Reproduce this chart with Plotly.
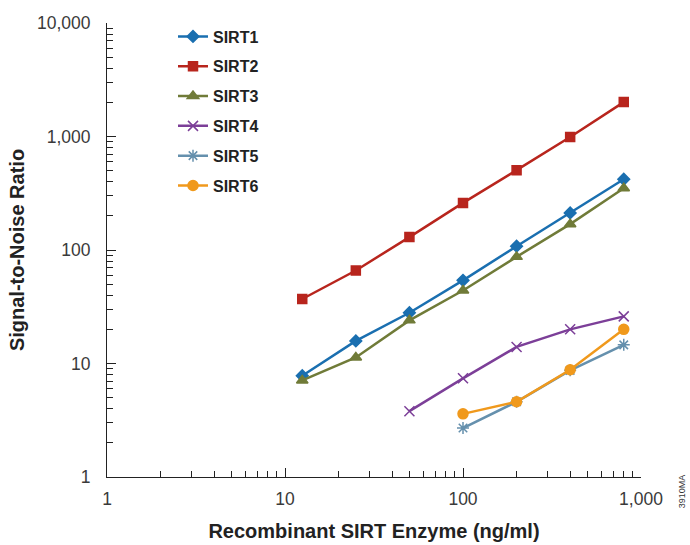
import plotly.graph_objects as go

conc = [12.5, 25, 50, 100, 200, 400, 800]
sirt1 = [7.8, 15.8, 28, 54, 108, 212, 420]
sirt2 = [37, 66, 130, 260, 505, 990, 2010]
sirt3 = [7.1, 11.3, 24, 44, 87, 169, 350]
conc4 = [50, 100, 200, 400, 800]
sirt4 = [3.8, 7.4, 14, 20, 26]
conc56 = [100, 200, 400, 800]
sirt5 = [2.7, 4.6, 8.7, 14.6]
sirt6 = [3.6, 4.6, 8.8, 20]

series = [
    ("SIRT1", conc, sirt1, "#1a6fb0", "diamond", 9),
    ("SIRT2", conc, sirt2, "#b8251d", "square", 9),
    ("SIRT3", conc, sirt3, "#707b38", "triangle-up", 10),
    ("SIRT4", conc4, sirt4, "#7c3f98", "x-thin-open", 10),
    ("SIRT5", conc56, sirt5, "#6590ad", "asterisk-open", 10),
    ("SIRT6", conc56, sirt6, "#f0991c", "circle", 10),
]

fig = go.Figure()
for name, xs, ys, col, sym, sz in series:
    fig.add_trace(go.Scatter(
        x=xs, y=ys, name="<b>" + name + "</b>", mode="lines+markers", legendgroup=name,
        line=dict(color=col, width=2.5),
        marker=dict(symbol=sym, size=sz, color=col, line=dict(color=col, width=1.5)),
    ))

tick_font = dict(family="Liberation Sans, Arial, sans-serif", size=17.5, color="#3a3a3a")
minor_vals = []
for d in [1, 10, 100, 1000]:
    minor_vals += [d * k for k in range(2, 10)]

fig.update_xaxes(
    type="log", range=[0, 3], automargin=False,
    tickvals=[1, 10, 100, 1000], ticktext=["1", "10", "100", "1,000"],
    ticks="inside", ticklen=9, tickwidth=1, tickcolor="#222", ticklabelstandoff=6,
    showline=True, linecolor="#222", linewidth=1, showgrid=False, zeroline=False,
    minor=dict(tickvals=[v for v in minor_vals if v < 1000], ticks="inside", ticklen=6, tickcolor="#222", showgrid=False),
    tickfont=tick_font,
    title=dict(text="<b>Recombinant SIRT Enzyme (ng/ml)</b>",
               font=dict(family="Liberation Sans, Arial, sans-serif", size=20, color="#222"), standoff=15),
)
fig.update_yaxes(
    type="log", range=[0, 4], automargin=False,
    tickvals=[1, 10, 100, 1000, 10000], ticktext=["1", "10", "100", "1,000", "10,000"],
    ticks="inside", ticklen=9, tickwidth=1, tickcolor="#222", ticklabelstandoff=12,
    showline=True, linecolor="#222", linewidth=1, showgrid=False, zeroline=False,
    minor=dict(tickvals=minor_vals, ticks="inside", ticklen=6, tickcolor="#222", showgrid=False),
    tickfont=tick_font,
    title=dict(text="<b>Signal-to-Noise Ratio</b>",
               font=dict(family="Liberation Sans, Arial, sans-serif", size=20, color="#222"), standoff=6),
)

fig.add_annotation(
    text="3910MA", xref="paper", yref="paper", x=1.09, y=-0.073, textangle=-90,
    showarrow=False, font=dict(family="Liberation Sans, Arial, sans-serif", size=9, color="#333"),
)

fig.update_layout(
    width=690, height=545,
    margin=dict(l=107, r=49, t=23, b=68),
    plot_bgcolor="white", paper_bgcolor="white",
    legend=dict(
        x=0.1236, y=1.0076, xanchor="left", yanchor="top",
        font=dict(family="Liberation Sans, Arial, sans-serif", size=16, color="#222"),
        bgcolor="rgba(0,0,0,0)", tracegroupgap=6, itemwidth=30,
    ),
    showlegend=True,
)

fig.write_html("out.html")
